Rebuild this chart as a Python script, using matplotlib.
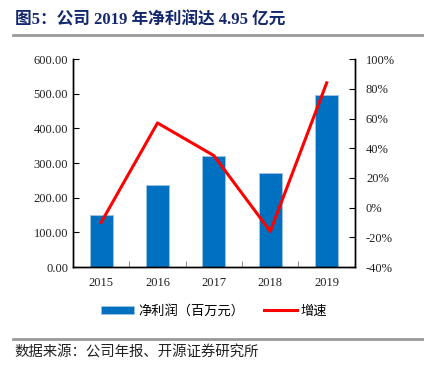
import matplotlib
matplotlib.use("Agg")
import matplotlib.pyplot as plt
import numpy as np
from matplotlib.ticker import FuncFormatter, FixedLocator

years = ["2015", "2016", "2017", "2018", "2019"]
profit = [151, 237, 320, 270, 495]      # 净利润（百万元）
growth = [-10, 57, 35, -16, 84]         # 增速 %

cjk = ["Noto Sans CJK SC", "DejaVu Sans"]
serif = ["Liberation Serif", "DejaVu Serif"]

fig = plt.figure(figsize=(4.24, 3.74), dpi=100)
ax = fig.add_axes([0.172, 0.286, 0.665, 0.556])
ax2 = ax.twinx()

x = np.arange(len(years))
bars = ax.bar(x, profit, 0.41, color="#0070C0", edgecolor="#9DC3E6", linewidth=0.6,
              label="净利润（百万元）", zorder=2)
line, = ax2.plot(x, growth, color="#FF0000", linewidth=2.2, label="增速", zorder=3)

ax.set_xlim(-0.5, 4.5)
ax.set_ylim(0, 600)
ax2.set_ylim(-40, 100)
ax.set_yticks(np.arange(0, 601, 100))
ax2.set_yticks(np.arange(-40, 101, 20))
ax.yaxis.set_major_formatter(FuncFormatter(lambda v, p: "%.2f" % v))
ax2.yaxis.set_major_formatter(FuncFormatter(lambda v, p: "%d%%" % v))

ax.set_xticks(x)
ax.set_xticklabels(years)
ax.xaxis.set_minor_locator(FixedLocator(np.arange(0.5, 4.5, 1)))
ax.tick_params(axis="x", which="major", length=0, pad=7)
ax.tick_params(axis="x", which="minor", direction="in", length=4, color="#808080")
ax.tick_params(axis="y", direction="in", length=4)
ax2.tick_params(axis="y", direction="in", length=4, pad=8)

for a in (ax, ax2):
    a.spines["top"].set_visible(False)
    for s in ("left", "right", "bottom"):
        a.spines[s].set_linewidth(1.0)
        a.spines[s].set_color("black")
    for lab in a.get_xticklabels() + a.get_yticklabels():
        lab.set_family(serif)
        lab.set_fontsize(9)
        lab.set_color("#222222")

leg = fig.legend([bars, line], ["净利润（百万元）", "增速"], loc="center",
                 bbox_to_anchor=(0.505, 0.168), ncol=2, frameon=False,
                 prop={"family": cjk, "size": 9.5}, handlelength=2.5,
                 handleheight=0.5, columnspacing=1.5, handletextpad=0.3)

fig.text(0.035, 0.945, "图5：公司 2019 年净利润达 4.95 亿元",
         family=["Liberation Serif", "Noto Sans CJK SC"],
         fontsize=12, fontweight="bold", color="#14286E", va="center")
fig.add_artist(plt.Line2D([0.03, 1.0], [0.907, 0.907], color="#999999", linewidth=2))
fig.add_artist(plt.Line2D([0.03, 1.0], [0.094, 0.094], color="#999999", linewidth=2))
fig.text(0.033, 0.059, "数据来源：公司年报、开源证券研究所", family=cjk,
         fontsize=10.4, color="#222222", va="center")

fig.savefig("out.png", dpi=100)
